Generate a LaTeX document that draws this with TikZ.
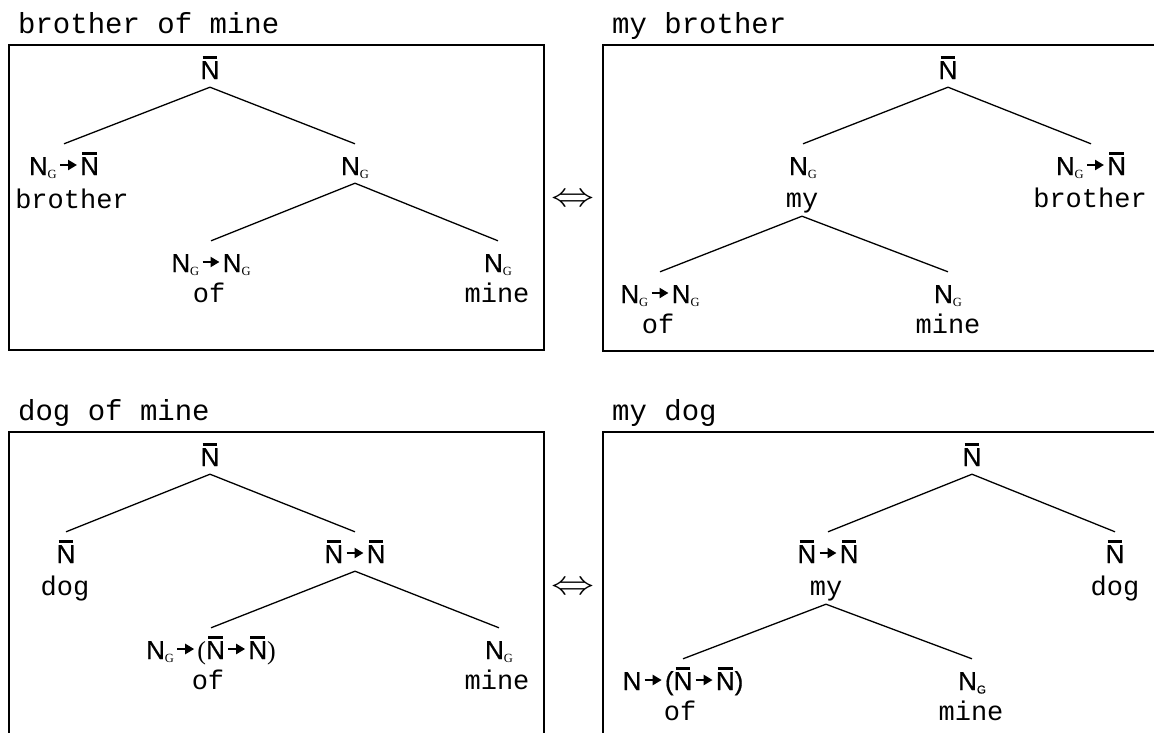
\documentclass[tikz,border=0pt]{standalone}
\usepackage{fontspec}
\usepackage{graphicx}
\usetikzlibrary{arrows.meta}
\setmainfont{Liberation Sans}
\newfontfamily\labfont{Liberation Sans}[FakeBold=0.6]
\newfontfamily\cour{Liberation Mono}
\newfontfamily\tms{Liberation Serif}
\newcommand\Nb{\vbox{\offinterlineskip\hbox{\kern0.08em\vrule height 0.095em width 0.56em}\kern0.1em\hbox{N}}}
\newcommand\subG{\raisebox{-3.5pt}{\tms\fontsize{12.5}{12.5}\selectfont G}}
\newcommand\subGs{\raisebox{-3.5pt}{\fontsize{11.5}{11.5}\selectfont G}}
\newcommand\Nsg{N\subG}
\newcommand\arr{\kern2pt\tikz[baseline=-10pt]\draw[line width=2.5pt,
  -{Triangle[length=9pt,width=10pt]}] (0pt,0pt) -- (17pt,0pt);\kern2pt}
\newcommand\eqsign{\scalebox{4.3}[3.4]{$\Leftrightarrow$}}
\tikzset{
  lab/.style={anchor=base, inner sep=0pt, text height=20pt, text depth=8pt,
    font=\labfont\fontsize{26}{26}\selectfont},
  word/.style={anchor=base, inner sep=0pt, text height=20pt, text depth=9pt,
    font=\cour\fontsize{27}{27}\selectfont},
  title/.style={anchor=base west, inner sep=0pt,
    font=\cour\fontsize{29}{30}\selectfont},
  frame/.style={line width=2pt},
  edge/.style={line width=1.3pt},
}
\begin{document}
\begin{tikzpicture}[x=1pt, y=-1pt]
    \useasboundingbox (0,0) rectangle (1154,732);
    % frames
    \draw[frame] (9,45) rectangle (544,350);
    \draw[frame] (603,45) rectangle (1156,351);
    \draw[frame] (9,432) rectangle (544,736);
    \draw[frame] (603,432) rectangle (1156,736);
    % brother of mine
    \node[title] (t1) at (18,33) {brother of mine};
    \node[lab] (a0) at (210,79) {\Nb};
    \node[lab] (a1) at (64,175) {\Nsg\arr\Nb};
    \node[word] (a1w) at (72,208) {brother};
    \node[lab] (a2) at (355,175) {\Nsg};
    \node[lab] (a3) at (211,272) {\Nsg\arr\Nsg};
    \node[word] (a3w) at (209,302) {of};
    \node[lab] (a4) at (498,272) {\Nsg};
    \node[word] (a4w) at (497,302) {mine};
    \draw[edge] (a0.south) -- ([yshift=11pt]a1.north);
    \draw[edge] (a0.south) -- ([yshift=11pt]a2.north);
    \draw[edge] (a2.south) -- ([yshift=11pt]a3.north);
    \draw[edge] (a2.south) -- ([yshift=11pt]a4.north);
    % my brother
    \node[title] (t2) at (612,33) {my brother};
    \node[lab] (b0) at (948,79) {\Nb};
    \node[lab] (b1) at (803,175) {\Nsg};
    \node[word] (b1w) at (802,207) {my};
    \node[lab] (b2) at (1091,175) {\Nsg\arr\Nb};
    \node[word] (b2w) at (1090,207) {brother};
    \node[lab] (b3) at (660,303) {\Nsg\arr\Nsg};
    \node[word] (b3w) at (658,333) {of};
    \node[lab] (b4) at (948,303) {\Nsg};
    \node[word] (b4w) at (948,333) {mine};
    \draw[edge] (b0.south) -- ([yshift=11pt]b1.north);
    \draw[edge] (b0.south) -- ([yshift=11pt]b2.north);
    \draw[edge] (b1w.south) -- ([yshift=11pt]b3.north);
    \draw[edge] (b1w.south) -- ([yshift=11pt]b4.north);
    % dog of mine
    \node[title] (t3) at (18,420) {dog of mine};
    \node[lab] (c0) at (210,466) {\Nb};
    \node[lab] (c1) at (66,563) {\Nb};
    \node[word] (c1w) at (65,595) {dog};
    \node[lab] (c2) at (355,563) {\Nb\arr\Nb};
    \node[lab] (c3) at (211,659) {\Nsg\arr{\tms(}\Nb\arr\Nb{\tms)}};
    \node[word] (c3w) at (208,689) {of};
    \node[lab] (c4) at (499,659) {\Nsg};
    \node[word] (c4w) at (497,689) {mine};
    \draw[edge] (c0.south) -- ([yshift=11pt]c1.north);
    \draw[edge] (c0.south) -- ([yshift=11pt]c2.north);
    \draw[edge] (c2.south) -- ([yshift=11pt]c3.north);
    \draw[edge] (c2.south) -- ([yshift=11pt]c4.north);
    % my dog
    \node[title] (t4) at (612,420) {my dog};
    \node[lab] (d0) at (972,466) {\Nb};
    \node[lab] (d1) at (828,563) {\Nb\arr\Nb};
    \node[word] (d1w) at (826,595) {my};
    \node[lab] (d2) at (1115,563) {\Nb};
    \node[word] (d2w) at (1115,595) {dog};
    \node[lab] (d3) at (683,690) {N\arr(\Nb\arr\Nb)};
    \node[word] (d3w) at (680,720) {of};
    \node[lab] (d4) at (972,690) {N\subGs};
    \node[word] (d4w) at (971,720) {mine};
    \draw[edge] (d0.south) -- ([yshift=11pt]d1.north);
    \draw[edge] (d0.south) -- ([yshift=11pt]d2.north);
    \draw[edge] (d1w.south) -- ([yshift=11pt]d3.north);
    \draw[edge] (d1w.south) -- ([yshift=11pt]d4.north);
    % equivalences
    \node (e1) at (573,200) {\eqsign};
    \node (e2) at (573,588) {\eqsign};
\end{tikzpicture}
\end{document}
